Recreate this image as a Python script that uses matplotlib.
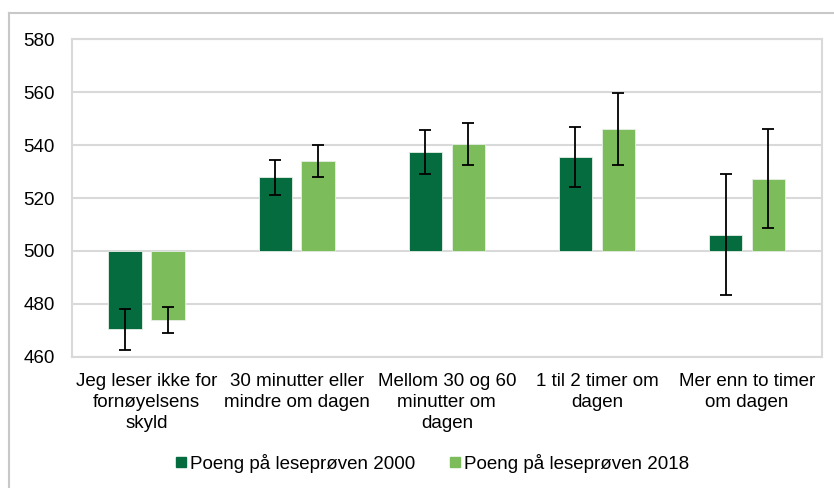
import matplotlib

matplotlib.use("Agg")

import matplotlib.pyplot as plt
import numpy as np
from matplotlib.lines import Line2D

categories = [
    "Jeg leser ikke for\nfornøyelsens\nskyld",
    "30 minutter eller\nmindre om dagen",
    "Mellom 30 og 60\nminutter om\ndagen",
    "1 til 2 timer om\ndagen",
    "Mer enn to timer\nom dagen",
]
series_names = ["Poeng på leseprøven 2000", "Poeng på leseprøven 2018"]
scores_2000 = [470.4, 527.8, 537.4, 535.5, 506.2]
errors_2000 = [7.7, 6.5, 8.4, 11.2, 23.0]
scores_2018 = [473.8, 534.0, 540.4, 546.0, 527.3]
errors_2018 = [4.9, 6.0, 8.0, 13.7, 18.6]
baseline = 500
y_ticks = [460, 480, 500, 520, 540, 560, 580]

dark_green = "#056c40"
light_green = "#7cbc5a"
grid_grey = "#d9d9d9"

plt.rcParams["font.family"] = ["Liberation Sans", "DejaVu Sans"]

fig = plt.figure(figsize=(8.34, 4.88), dpi=100)
ax = fig.add_axes([0.086, 0.269, 0.8996, 0.6505])

x = np.arange(len(categories))
bar_width = 0.224
offset = 0.143

for xs, values, errors, colour in [
    (x - offset, scores_2000, errors_2000, dark_green),
    (x + offset, scores_2018, errors_2018, light_green),
]:
    values = np.array(values)
    ax.bar(
        xs,
        values - baseline,
        bottom=baseline,
        width=bar_width,
        color=colour,
        edgecolor="#e6efe6",
        linewidth=0.6,
        zorder=2,
    )
    ax.errorbar(
        xs,
        values,
        yerr=errors,
        fmt="none",
        ecolor="black",
        elinewidth=1.3,
        capsize=4,
        capthick=1.3,
        zorder=3,
    )

ax.set_xlim(-0.5, len(categories) - 0.5)
ax.set_ylim(460, 580)
ax.set_yticks(y_ticks)
ax.set_xticks(x)
ax.set_xticklabels(categories, fontsize=13.5, linespacing=1.3)
ax.tick_params(axis="y", labelsize=13.5, length=0, pad=12)
ax.tick_params(axis="x", length=0, pad=12)
ax.grid(axis="y", color=grid_grey, linewidth=1.5, zorder=0)
for spine in ax.spines.values():
    spine.set_color(grid_grey)
    spine.set_linewidth(1.5)

handles = [
    Line2D([], [], marker="s", linestyle="none", markersize=6.5,
           markerfacecolor=dark_green, markeredgecolor=dark_green),
    Line2D([], [], marker="s", linestyle="none", markersize=6.5,
           markerfacecolor=light_green, markeredgecolor=light_green),
]
fig.legend(
    handles,
    series_names,
    loc="center",
    bbox_to_anchor=(0.516, 0.051),
    ncol=2,
    frameon=False,
    fontsize=13.5,
    handletextpad=0.0,
    columnspacing=1.6,
    handlelength=1.0,
)

# outer chart frame (top and left edges visible in the reference)
fig.add_artist(Line2D([9 / 834, 9 / 834], [0, 1 - 13 / 488],
                      transform=fig.transFigure, color="#c8c8c8", linewidth=1.5))
fig.add_artist(Line2D([9 / 834, 1], [1 - 13 / 488, 1 - 13 / 488],
                      transform=fig.transFigure, color="#c8c8c8", linewidth=1.5))

fig.savefig("out.png", dpi=100)
